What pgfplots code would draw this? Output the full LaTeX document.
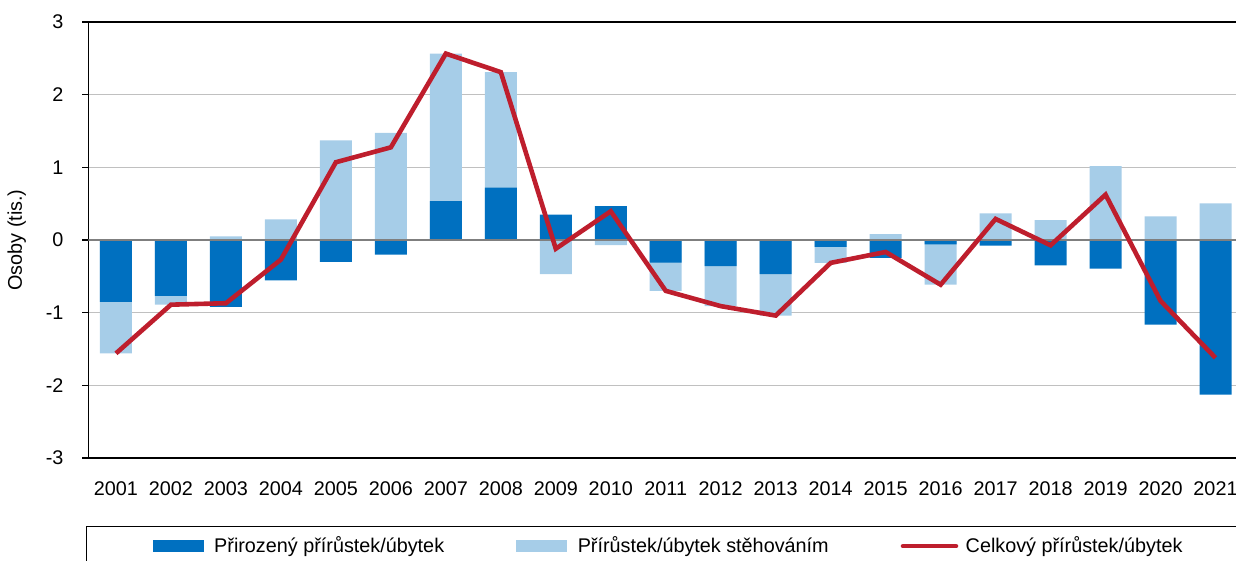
\documentclass[border=0pt]{standalone}
\usepackage{fontspec}
\setmainfont{Liberation Sans}
\usepackage{pgfplots}
\usepackage{pgfplotstable}
\pgfplotsset{compat=1.18}
\definecolor{natblue}{HTML}{0070C0}
\definecolor{migblue}{HTML}{A6CDE8}
\definecolor{totred}{HTML}{BE1E2D}
\definecolor{zerogray}{HTML}{7F7F7F}
\definecolor{gridgray}{HTML}{C0C0C0}

% thousands of persons
% nat = natural change, mig = migration, total = nat + mig
% migbar = where the light bar ends (Excel stacks the negative and
% positive parts separately, so it starts at 0 when the signs differ)
\pgfplotstableread{
year nat mig migbar total
2001 -0.85 -0.71 -1.56 -1.56
2002 -0.77 -0.12 -0.89 -0.89
2003 -0.92 0.05 0.05 -0.87
2004 -0.555 0.285 0.285 -0.27
2005 -0.30 1.37 1.37 1.07
2006 -0.20 1.475 1.475 1.275
2007 0.535 2.03 2.565 2.565
2008 0.72 1.59 2.31 2.31
2009 0.35 -0.47 -0.47 -0.12
2010 0.465 -0.07 -0.07 0.395
2011 -0.31 -0.39 -0.70 -0.70
2012 -0.36 -0.55 -0.91 -0.91
2013 -0.47 -0.57 -1.04 -1.04
2014 -0.095 -0.22 -0.315 -0.315
2015 -0.245 0.08 0.08 -0.165
2016 -0.06 -0.555 -0.615 -0.615
2017 -0.077 0.367 0.367 0.29
2018 -0.348 0.275 0.275 -0.073
2019 -0.394 1.018 1.018 0.624
2020 -1.164 0.326 0.326 -0.838
2021 -2.127 0.505 0.505 -1.622
}\popdata

\begin{document}
\begin{tikzpicture}[font=\fontsize{9.9}{11.9}\selectfont]
\begin{axis}[
  name=ax,
  scale only axis,
  width=573.75pt, height=218pt,
  xmin=-0.5, xmax=20.373,
  ymin=-3, ymax=3,
  ytick={-3,-2,-1,0,1,2,3},
  yticklabels={-3,-2,-1,0,1,2,3},
  xtick=data,
  xticklabels from table={\popdata}{year},
  axis x line=box, axis y line=left,
  axis line style={-, black, line width=0.8pt},
  xtick style={draw=none},
  ytick style={black, line width=0.8pt},
  tick align=outside, major tick length=3pt,
  yticklabel style={xshift=-6pt},
  xticklabel style={yshift=-5.2pt},
  ymajorgrids, grid style={gridgray, line width=0.6pt},
  ylabel={Osoby (tis.)},
  every axis y label/.style={at={(axis description cs:-0.0625,0.5)}, rotate=90, anchor=center},
  legend columns=3,
  legend cell align=left,
  legend style={
    at={(rel axis cs:0,0)}, anchor=north west,
    xshift=-1.25pt, yshift=-34pt,
    draw=black, line width=0.6pt,
    inner xsep=33pt, inner ysep=3pt,
    column sep=0pt,
  },
]
\addlegendimage{legend image code/.code={\fill[natblue] (0pt,-2.75pt) rectangle (25pt,2.75pt); \path (28.2pt,0pt);}}
\addlegendentry{Přirozený přírůstek/úbytek}
\addlegendimage{legend image code/.code={\path (-34pt,0pt); \fill[migblue] (0pt,-2.75pt) rectangle (25pt,2.75pt); \path (28.2pt,0pt);}}
\addlegendentry{Přírůstek/úbytek stěhováním}

\addplot[ybar, bar width=16pt, bar shift=0pt, fill=migblue, draw=none, forget plot]
  table[x expr=\coordindex, y=migbar] {\popdata};
\addplot[ybar, bar width=16pt, bar shift=0pt, fill=natblue, draw=none, forget plot]
  table[x expr=\coordindex, y=nat] {\popdata};
\draw[zerogray, line width=0.8pt] (axis cs:-0.5,0) -- (axis cs:20.373,0);
\addplot[totred, line width=2.3pt, mark=none,
  legend image code/.code={\path (-34pt,0pt); \draw[totred, line width=2.3pt, line cap=round] (0pt,0pt) -- (26.5pt,0pt); \path (28.2pt,0pt);}]
  table[x expr=\coordindex, y=total] {\popdata};
\addlegendentry{Celkový přírůstek/úbytek}
\end{axis}
\pgfresetboundingbox
\path[use as bounding box] ([xshift=-44.25pt,yshift=-51.5pt]ax.south west) rectangle ([yshift=11pt]ax.north east);
\end{tikzpicture}
\end{document}
